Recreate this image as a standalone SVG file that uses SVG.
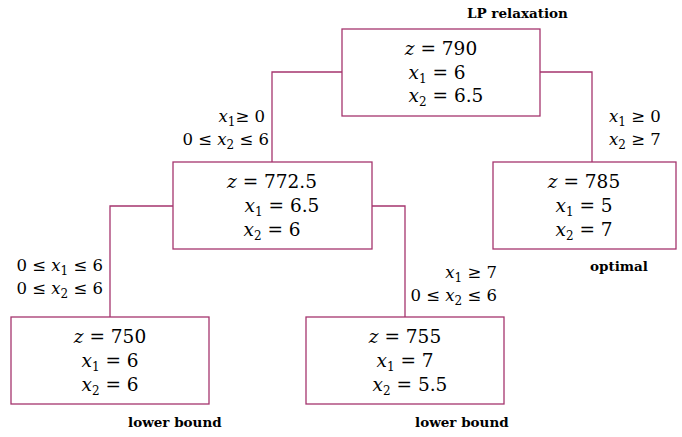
<svg xmlns="http://www.w3.org/2000/svg" width="682" height="437" viewBox="0 0 682 437">
<style>
.box{fill:#fff;stroke:#a5356e;stroke-width:1.3}
.ln{fill:none;stroke:#a5356e;stroke-width:1.3}
text{font-family:"DejaVu Serif",serif;fill:#000}
.m{font-size:18.5px}
.c{font-size:16.5px}
.v{font-style:italic}
.s{font-size:12px}
.lb{font-size:13.5px;font-weight:bold}
</style>
<rect width="682" height="437" fill="#fff"/>
<g id="connectors">
<polyline class="ln" points="342,72 272,72 272,162"/>
<polyline class="ln" points="540,72 592,72 592,162"/>
<polyline class="ln" points="173,206 110,206 110,317"/>
<polyline class="ln" points="372,206 405,206 405,317"/>
</g>
<g id="root">
<rect class="box" x="342" y="29" width="198" height="87"/>
<text class="m" text-anchor="middle" x="441" y="55"><tspan class="v">z</tspan> = 790</text>
<text class="m" text-anchor="middle" x="437" y="79"><tspan class="v">x</tspan><tspan class="s" dy="4">1</tspan><tspan dy="-4"> = 6</tspan></text>
<text class="m" text-anchor="middle" x="446" y="102"><tspan class="v">x</tspan><tspan class="s" dy="4">2</tspan><tspan dy="-4"> = 6.5</tspan></text>
<text class="lb" x="467" y="18">LP relaxation</text>
</g>
<g id="nodeB">
<rect class="box" x="173" y="162" width="199" height="87"/>
<text class="m" text-anchor="middle" x="272" y="188"><tspan class="v">z</tspan> = 772.5</text>
<text class="m" text-anchor="middle" x="282" y="212"><tspan class="v">x</tspan><tspan class="s" dy="4">1</tspan><tspan dy="-4"> = 6.5</tspan></text>
<text class="m" text-anchor="middle" x="272" y="236"><tspan class="v">x</tspan><tspan class="s" dy="4">2</tspan><tspan dy="-4"> = 6</tspan></text>
</g>
<g id="nodeC">
<rect class="box" x="493" y="162" width="183" height="87"/>
<text class="m" text-anchor="middle" x="584" y="188"><tspan class="v">z</tspan> = 785</text>
<text class="m" text-anchor="middle" x="584" y="212"><tspan class="v">x</tspan><tspan class="s" dy="4">1</tspan><tspan dy="-4"> = 5</tspan></text>
<text class="m" text-anchor="middle" x="584" y="236"><tspan class="v">x</tspan><tspan class="s" dy="4">2</tspan><tspan dy="-4"> = 7</tspan></text>
<text class="lb" x="590" y="271">optimal</text>
</g>
<g id="nodeD">
<rect class="box" x="11" y="317" width="198" height="87"/>
<text class="m" text-anchor="middle" x="110" y="343"><tspan class="v">z</tspan> = 750</text>
<text class="m" text-anchor="middle" x="110" y="367"><tspan class="v">x</tspan><tspan class="s" dy="4">1</tspan><tspan dy="-4"> = 6</tspan></text>
<text class="m" text-anchor="middle" x="110" y="391"><tspan class="v">x</tspan><tspan class="s" dy="4">2</tspan><tspan dy="-4"> = 6</tspan></text>
<text class="lb" x="128" y="427">lower bound</text>
</g>
<g id="nodeE">
<rect class="box" x="306" y="317" width="198" height="87"/>
<text class="m" text-anchor="middle" x="405" y="343"><tspan class="v">z</tspan> = 755</text>
<text class="m" text-anchor="middle" x="405" y="367"><tspan class="v">x</tspan><tspan class="s" dy="4">1</tspan><tspan dy="-4"> = 7</tspan></text>
<text class="m" text-anchor="middle" x="410" y="391"><tspan class="v">x</tspan><tspan class="s" dy="4">2</tspan><tspan dy="-4"> = 5.5</tspan></text>
<text class="lb" x="415" y="427">lower bound</text>
</g>
<g id="labels">
<text class="c" text-anchor="end" x="265" y="122"><tspan class="v">x</tspan><tspan class="s" dy="4">1</tspan><tspan dy="-4">≥ 0</tspan></text>
<text class="c" text-anchor="end" x="269" y="145">0 ≤ <tspan class="v">x</tspan><tspan class="s" dy="4">2</tspan><tspan dy="-4"> ≤ 6</tspan></text>
<text class="c" x="609" y="122"><tspan class="v">x</tspan><tspan class="s" dy="4">1</tspan><tspan dy="-4"> ≥ 0</tspan></text>
<text class="c" x="609" y="145"><tspan class="v">x</tspan><tspan class="s" dy="4">2</tspan><tspan dy="-4"> ≥ 7</tspan></text>
<text class="c" text-anchor="end" x="103" y="271">0 ≤ <tspan class="v">x</tspan><tspan class="s" dy="4">1</tspan><tspan dy="-4"> ≤ 6</tspan></text>
<text class="c" text-anchor="end" x="103" y="294">0 ≤ <tspan class="v">x</tspan><tspan class="s" dy="4">2</tspan><tspan dy="-4"> ≤ 6</tspan></text>
<text class="c" text-anchor="end" x="497" y="278"><tspan class="v">x</tspan><tspan class="s" dy="4">1</tspan><tspan dy="-4"> ≥ 7</tspan></text>
<text class="c" text-anchor="end" x="497" y="301">0 ≤ <tspan class="v">x</tspan><tspan class="s" dy="4">2</tspan><tspan dy="-4"> ≤ 6</tspan></text>
</g>
</svg>
